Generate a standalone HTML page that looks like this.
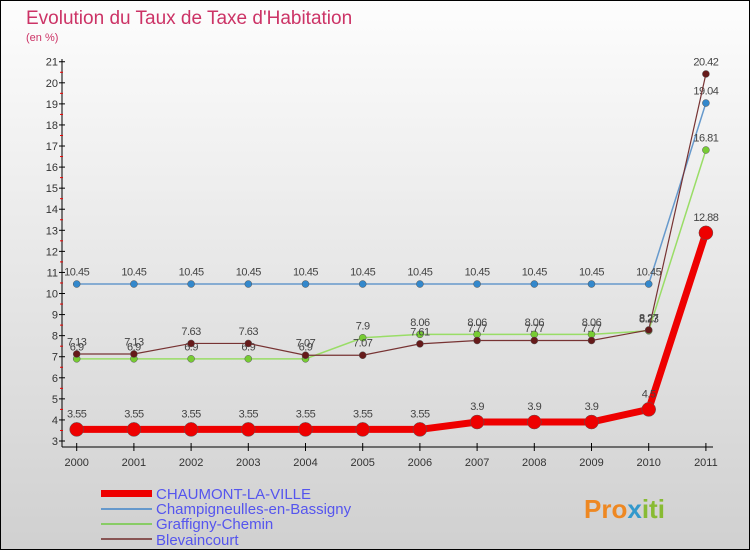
<!DOCTYPE html>
<html><head><meta charset="utf-8"><style>
body{margin:0}
#c{width:750px;height:550px;position:relative;background:linear-gradient(#fdfdfd,#d0d0d0);font-family:"Liberation Sans",sans-serif;border:1px solid #000;box-sizing:border-box;overflow:hidden}
</style></head><body>
<div id="c">
<svg id="s" width="750" height="550" style="position:absolute;left:0;top:0">
<text x="25" y="23" font-size="19" fill="#cc3366">Evolution du Taux de Taxe d'Habitation</text>
<text x="25" y="40" font-size="11" fill="#cc3366">(en %)</text>
<g id="axes"></g><g id="series"></g>
<g>
<rect x="100" y="489" width="51" height="7" fill="#ee0000"/>
<text x="155" y="498" font-size="15" fill="#5555ee">CHAUMONT-LA-VILLE</text>
<rect x="100" y="507" width="51" height="2" fill="#6699cc"/>
<text x="155" y="513" font-size="15" fill="#5555ee">Champigneulles-en-Bassigny</text>
<rect x="100" y="522" width="51" height="2" fill="#88cc66"/>
<text x="155" y="528" font-size="15" fill="#5555ee">Graffigny-Chemin</text>
<rect x="100" y="537" width="51" height="2" fill="#885555"/>
<text x="155" y="544" font-size="15" fill="#5555ee">Blevaincourt</text>
</g>
<text x="583" y="517" font-size="26" font-weight="bold" fill="#ee8822">Pro<tspan fill="#3399cc">x</tspan><tspan fill="#88bb33">iti</tspan></text>
</svg>
</div>
<script>
const years=["2000","2001","2002","2003","2004","2005","2006","2007","2008","2009","2010","2011"];
const chaumont=[3.55,3.55,3.55,3.55,3.55,3.55,3.55,3.9,3.9,3.9,4.5,12.88];
const champ=[10.45,10.45,10.45,10.45,10.45,10.45,10.45,10.45,10.45,10.45,10.45,19.04];
const graff=[6.9,6.9,6.9,6.9,6.9,7.9,8.06,8.06,8.06,8.06,8.23,16.81];
const blev=[7.13,7.13,7.63,7.63,7.07,7.07,7.61,7.77,7.77,7.77,8.27,20.42];
const yTicks=[3,4,5,6,7,8,9,10,11,12,13,14,15,16,17,18,19,20,21];
const NS="http://www.w3.org/2000/svg";
const xs=i=>75.7+i*57.2;
const ys=v=>440-(v-3)*21.07;
function mk(t,a,p){const e=document.createElementNS(NS,t);for(const k in a)e.setAttribute(k,a[k]);p.appendChild(e);return e;}
const ax=document.getElementById('axes');
let e=mk('line',{x1:61,y1:58,x2:61,y2:446,stroke:'#000','stroke-width':1},ax);

e=mk('line',{x1:61,y1:446,x2:712,y2:446,stroke:'#000','stroke-width':1},ax);

yTicks.forEach(v=>{
 mk('line',{x1:58,y1:ys(v),x2:64,y2:ys(v),stroke:'#000'},ax);
 if(v<21)mk('line',{x1:59,y1:ys(v+0.5),x2:62,y2:ys(v+0.5),stroke:'#e00'},ax);
 const t=mk('text',{x:57,y:ys(v)+4,'font-size':11,fill:'#333','text-anchor':'end'},ax);t.textContent=v;
 
});
years.forEach((y,i)=>{
 mk('line',{x1:xs(i),y1:442,x2:xs(i),y2:450,stroke:'#000'},ax);
 const t=mk('text',{x:xs(i),y:465,'font-size':11,fill:'#333','text-anchor':'middle'},ax);t.textContent=y;
 
});
const sg=document.getElementById('series');
function series(name,vals,color,w,r,dot){
 const g=mk('g',{},sg);
 
 const l=mk('polyline',{points:vals.map((v,i)=>xs(i)+','+ys(v)).join(' '),fill:'none',stroke:color,'stroke-width':w},g);
 
 vals.forEach((v,i)=>{
  const c=mk('circle',{cx:xs(i),cy:ys(v),r:r,fill:dot,stroke:'#555','stroke-width':0.5},g);
  
  const t=mk('text',{x:xs(i),y:ys(v)-r-5,'font-size':11,fill:'#444','text-anchor':'middle','letter-spacing':'-0.5'},g);t.textContent=v;
  
 });
}
series('champigneulles',champ,'#6699cc',1.5,3.5,'#3388cc');
series('graffigny',graff,'#99dd66',1.5,3.5,'#77cc33');
series('blevaincourt',blev,'#773333',1.2,3.5,'#661a1a');
series('chaumont',chaumont,'#ee0000',7,7,'#ee0000');
</script>
</body></html>
